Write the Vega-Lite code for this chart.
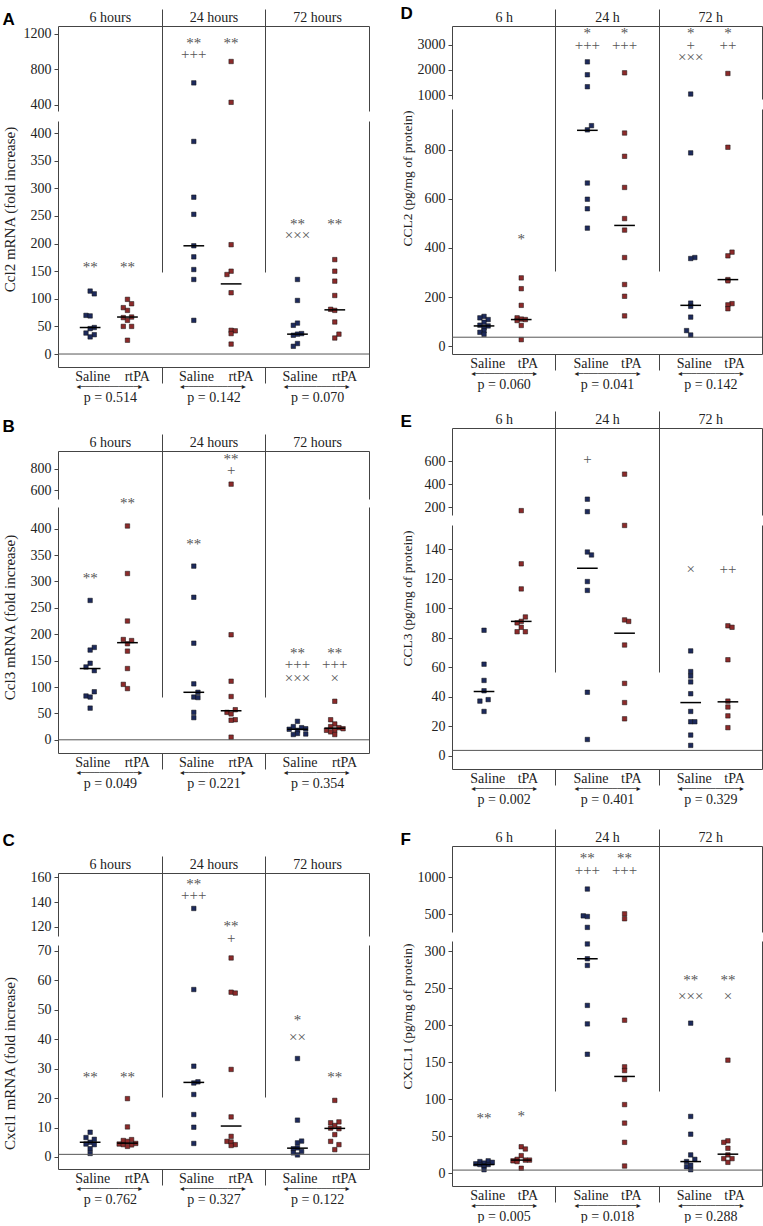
{
"$schema": "https://vega.github.io/schema/vega-lite/v6.json",
"padding": {"left": 2, "top": 4, "right": 0, "bottom": 0},
"autosize": {"type": "pad"},
"config": {
 "view": {"stroke": null},
 "font": "Liberation Serif",
 "axis": {"labelFont": "Liberation Serif", "labelFontSize": 14, "labelColor": "#222", "domainColor": "#444", "domainWidth": 1, "tickColor": "#444", "gridColor": "#444", "gridOpacity": 1, "gridWidth": 1, "labelFlush": false, "labelOverlap": false, "labelBound": false, "titleFont": "Liberation Serif", "titleFontWeight": "normal", "titleColor": "#222", "titleFontSize": 13.5}
},
"datasets": {
"pts": [
{"p":"A","t":"6","g":"S","v":114,"j":0},{"p":"A","t":"6","g":"S","v":109,"j":1},{"p":"A","t":"6","g":"S","v":70,"j":-1},{"p":"A","t":"6","g":"S","v":69,"j":0},{"p":"A","t":"6","g":"S","v":48,"j":1},{"p":"A","t":"6","g":"S","v":46,"j":0},{"p":"A","t":"6","g":"S","v":38,"j":-1},{"p":"A","t":"6","g":"S","v":35,"j":1},{"p":"A","t":"6","g":"S","v":31,"j":0},
{"p":"A","t":"6","g":"R","v":99,"j":0},{"p":"A","t":"6","g":"R","v":91,"j":1},{"p":"A","t":"6","g":"R","v":84,"j":-1},{"p":"A","t":"6","g":"R","v":79,"j":0},{"p":"A","t":"6","g":"R","v":67,"j":1},{"p":"A","t":"6","g":"R","v":66,"j":-1},{"p":"A","t":"6","g":"R","v":61,"j":0},{"p":"A","t":"6","g":"R","v":50,"j":-1},{"p":"A","t":"6","g":"R","v":50,"j":1},{"p":"A","t":"6","g":"R","v":25,"j":0},
{"p":"A","t":"24","g":"S","v":649,"j":0},{"p":"A","t":"24","g":"S","v":385,"j":0},{"p":"A","t":"24","g":"S","v":284,"j":0},{"p":"A","t":"24","g":"S","v":253,"j":0},{"p":"A","t":"24","g":"S","v":196,"j":0},{"p":"A","t":"24","g":"S","v":176,"j":0},{"p":"A","t":"24","g":"S","v":153,"j":0},{"p":"A","t":"24","g":"S","v":135,"j":0},{"p":"A","t":"24","g":"S","v":61,"j":0},
{"p":"A","t":"24","g":"R","v":890,"j":0},{"p":"A","t":"24","g":"R","v":430,"j":0},{"p":"A","t":"24","g":"R","v":198,"j":0},{"p":"A","t":"24","g":"R","v":150,"j":0},{"p":"A","t":"24","g":"R","v":144,"j":-1},{"p":"A","t":"24","g":"R","v":111,"j":0},{"p":"A","t":"24","g":"R","v":43,"j":0},{"p":"A","t":"24","g":"R","v":42,"j":1},{"p":"A","t":"24","g":"R","v":37,"j":0},{"p":"A","t":"24","g":"R","v":18,"j":0},
{"p":"A","t":"72","g":"S","v":135,"j":0},{"p":"A","t":"72","g":"S","v":97,"j":0},{"p":"A","t":"72","g":"S","v":56,"j":0},{"p":"A","t":"72","g":"S","v":52,"j":-1},{"p":"A","t":"72","g":"S","v":37,"j":1},{"p":"A","t":"72","g":"S","v":36,"j":0},{"p":"A","t":"72","g":"S","v":34,"j":-1},{"p":"A","t":"72","g":"S","v":19,"j":0},{"p":"A","t":"72","g":"S","v":14,"j":-1},
{"p":"A","t":"72","g":"R","v":171,"j":0},{"p":"A","t":"72","g":"R","v":150,"j":0},{"p":"A","t":"72","g":"R","v":132,"j":0},{"p":"A","t":"72","g":"R","v":106,"j":0},{"p":"A","t":"72","g":"R","v":81,"j":-1},{"p":"A","t":"72","g":"R","v":79,"j":0},{"p":"A","t":"72","g":"R","v":58,"j":0},{"p":"A","t":"72","g":"R","v":36,"j":1},{"p":"A","t":"72","g":"R","v":29,"j":0},
{"p":"B","t":"6","g":"S","v":264,"j":0},{"p":"B","t":"6","g":"S","v":175,"j":1},{"p":"B","t":"6","g":"S","v":170,"j":0},{"p":"B","t":"6","g":"S","v":145,"j":0},{"p":"B","t":"6","g":"S","v":138,"j":-1},{"p":"B","t":"6","g":"S","v":131,"j":1},{"p":"B","t":"6","g":"S","v":91,"j":1},{"p":"B","t":"6","g":"S","v":83,"j":-1},{"p":"B","t":"6","g":"S","v":81,"j":0},{"p":"B","t":"6","g":"S","v":60,"j":0},
{"p":"B","t":"6","g":"R","v":405,"j":0},{"p":"B","t":"6","g":"R","v":315,"j":0},{"p":"B","t":"6","g":"R","v":225,"j":0},{"p":"B","t":"6","g":"R","v":190,"j":-1},{"p":"B","t":"6","g":"R","v":188,"j":1},{"p":"B","t":"6","g":"R","v":182,"j":0},{"p":"B","t":"6","g":"R","v":168,"j":0},{"p":"B","t":"6","g":"R","v":135,"j":0},{"p":"B","t":"6","g":"R","v":105,"j":-1},{"p":"B","t":"6","g":"R","v":97,"j":0},
{"p":"B","t":"24","g":"S","v":329,"j":0},{"p":"B","t":"24","g":"S","v":270,"j":0},{"p":"B","t":"24","g":"S","v":183,"j":0},{"p":"B","t":"24","g":"S","v":106,"j":0},{"p":"B","t":"24","g":"S","v":90,"j":1},{"p":"B","t":"24","g":"S","v":81,"j":0},{"p":"B","t":"24","g":"S","v":80,"j":1},{"p":"B","t":"24","g":"S","v":52,"j":0},{"p":"B","t":"24","g":"S","v":42,"j":0},
{"p":"B","t":"24","g":"R","v":658,"j":0},{"p":"B","t":"24","g":"R","v":199,"j":0},{"p":"B","t":"24","g":"R","v":111,"j":0},{"p":"B","t":"24","g":"R","v":82,"j":0},{"p":"B","t":"24","g":"R","v":57,"j":1},{"p":"B","t":"24","g":"R","v":52,"j":-1},{"p":"B","t":"24","g":"R","v":49,"j":0},{"p":"B","t":"24","g":"R","v":38,"j":1},{"p":"B","t":"24","g":"R","v":37,"j":0},{"p":"B","t":"24","g":"R","v":5,"j":0},
{"p":"B","t":"72","g":"S","v":35,"j":0},{"p":"B","t":"72","g":"S","v":25,"j":-1},{"p":"B","t":"72","g":"S","v":23,"j":1},{"p":"B","t":"72","g":"S","v":21,"j":2},{"p":"B","t":"72","g":"S","v":20,"j":-2},{"p":"B","t":"72","g":"S","v":18,"j":0},{"p":"B","t":"72","g":"S","v":12,"j":0},{"p":"B","t":"72","g":"S","v":11,"j":2},{"p":"B","t":"72","g":"S","v":10,"j":-1},
{"p":"B","t":"72","g":"R","v":73,"j":0},{"p":"B","t":"72","g":"R","v":38,"j":-1},{"p":"B","t":"72","g":"R","v":30,"j":0},{"p":"B","t":"72","g":"R","v":25,"j":-1},{"p":"B","t":"72","g":"R","v":23,"j":1},{"p":"B","t":"72","g":"R","v":21,"j":2},{"p":"B","t":"72","g":"R","v":18,"j":0},{"p":"B","t":"72","g":"R","v":18,"j":-2},{"p":"B","t":"72","g":"R","v":15,"j":-1},{"p":"B","t":"72","g":"R","v":10,"j":0},
{"p":"C","t":"6","g":"S","v":8.4,"j":0},{"p":"C","t":"6","g":"S","v":6.6,"j":-1},{"p":"C","t":"6","g":"S","v":6.0,"j":1},{"p":"C","t":"6","g":"S","v":5.0,"j":0},{"p":"C","t":"6","g":"S","v":4.4,"j":-1},{"p":"C","t":"6","g":"S","v":4.2,"j":1},{"p":"C","t":"6","g":"S","v":2.8,"j":0},{"p":"C","t":"6","g":"S","v":1.2,"j":0},
{"p":"C","t":"6","g":"R","v":19.8,"j":0},{"p":"C","t":"6","g":"R","v":10.2,"j":0},{"p":"C","t":"6","g":"R","v":5.9,"j":1},{"p":"C","t":"6","g":"R","v":5.6,"j":-1},{"p":"C","t":"6","g":"R","v":5.3,"j":0},{"p":"C","t":"6","g":"R","v":4.6,"j":2},{"p":"C","t":"6","g":"R","v":4.4,"j":-2},{"p":"C","t":"6","g":"R","v":4.2,"j":-1},{"p":"C","t":"6","g":"R","v":4.1,"j":1},{"p":"C","t":"6","g":"R","v":3.6,"j":0},
{"p":"C","t":"24","g":"S","v":134.8,"j":0},{"p":"C","t":"24","g":"S","v":56.8,"j":0},{"p":"C","t":"24","g":"S","v":30.8,"j":0},{"p":"C","t":"24","g":"S","v":25.5,"j":1},{"p":"C","t":"24","g":"S","v":25.1,"j":0},{"p":"C","t":"24","g":"S","v":21.2,"j":0},{"p":"C","t":"24","g":"S","v":14.4,"j":0},{"p":"C","t":"24","g":"S","v":10.1,"j":0},{"p":"C","t":"24","g":"S","v":4.6,"j":0},
{"p":"C","t":"24","g":"R","v":67.5,"j":0},{"p":"C","t":"24","g":"R","v":55.9,"j":0},{"p":"C","t":"24","g":"R","v":55.6,"j":1},{"p":"C","t":"24","g":"R","v":29.7,"j":0},{"p":"C","t":"24","g":"R","v":13.6,"j":0},{"p":"C","t":"24","g":"R","v":7.0,"j":0},{"p":"C","t":"24","g":"R","v":5.3,"j":-1},{"p":"C","t":"24","g":"R","v":5.1,"j":0},{"p":"C","t":"24","g":"R","v":4.2,"j":1},{"p":"C","t":"24","g":"R","v":3.9,"j":0},
{"p":"C","t":"72","g":"S","v":33.4,"j":0},{"p":"C","t":"72","g":"S","v":12.5,"j":0},{"p":"C","t":"72","g":"S","v":5.4,"j":1},{"p":"C","t":"72","g":"S","v":4.8,"j":0},{"p":"C","t":"72","g":"S","v":3.1,"j":0},{"p":"C","t":"72","g":"S","v":2.8,"j":-1},{"p":"C","t":"72","g":"S","v":1.9,"j":1},{"p":"C","t":"72","g":"S","v":1.4,"j":-1},{"p":"C","t":"72","g":"S","v":0.7,"j":0},
{"p":"C","t":"72","g":"R","v":19.2,"j":0},{"p":"C","t":"72","g":"R","v":11.9,"j":1},{"p":"C","t":"72","g":"R","v":11.6,"j":-1},{"p":"C","t":"72","g":"R","v":10.7,"j":0},{"p":"C","t":"72","g":"R","v":9.8,"j":-1},{"p":"C","t":"72","g":"R","v":9.6,"j":1},{"p":"C","t":"72","g":"R","v":7.6,"j":0},{"p":"C","t":"72","g":"R","v":5.3,"j":-1},{"p":"C","t":"72","g":"R","v":4.2,"j":1},{"p":"C","t":"72","g":"R","v":2.5,"j":0},
{"p":"D","t":"6","g":"S","v":121,"j":0},{"p":"D","t":"6","g":"S","v":115,"j":-1},{"p":"D","t":"6","g":"S","v":108,"j":1},{"p":"D","t":"6","g":"S","v":97,"j":0},{"p":"D","t":"6","g":"S","v":85,"j":-1},{"p":"D","t":"6","g":"S","v":82,"j":1},{"p":"D","t":"6","g":"S","v":75,"j":0},{"p":"D","t":"6","g":"S","v":63,"j":0},{"p":"D","t":"6","g":"S","v":56,"j":-1},{"p":"D","t":"6","g":"S","v":48,"j":0},
{"p":"D","t":"6","g":"R","v":278,"j":0},{"p":"D","t":"6","g":"R","v":234,"j":0},{"p":"D","t":"6","g":"R","v":166,"j":0},{"p":"D","t":"6","g":"R","v":115,"j":-1},{"p":"D","t":"6","g":"R","v":110,"j":0},{"p":"D","t":"6","g":"R","v":108,"j":1},{"p":"D","t":"6","g":"R","v":104,"j":-1},{"p":"D","t":"6","g":"R","v":84,"j":0},{"p":"D","t":"6","g":"R","v":26,"j":0},
{"p":"D","t":"24","g":"S","v":2316,"j":0},{"p":"D","t":"24","g":"S","v":1803,"j":0},{"p":"D","t":"24","g":"S","v":1329,"j":0},{"p":"D","t":"24","g":"S","v":899,"j":1},{"p":"D","t":"24","g":"S","v":882,"j":0},{"p":"D","t":"24","g":"S","v":665,"j":0},{"p":"D","t":"24","g":"S","v":599,"j":0},{"p":"D","t":"24","g":"S","v":560,"j":0},{"p":"D","t":"24","g":"S","v":481,"j":0},
{"p":"D","t":"24","g":"R","v":1881,"j":0},{"p":"D","t":"24","g":"R","v":869,"j":0},{"p":"D","t":"24","g":"R","v":774,"j":0},{"p":"D","t":"24","g":"R","v":647,"j":0},{"p":"D","t":"24","g":"R","v":520,"j":0},{"p":"D","t":"24","g":"R","v":473,"j":0},{"p":"D","t":"24","g":"R","v":361,"j":0},{"p":"D","t":"24","g":"R","v":251,"j":0},{"p":"D","t":"24","g":"R","v":203,"j":0},{"p":"D","t":"24","g":"R","v":123,"j":0},
{"p":"D","t":"72","g":"S","v":1039,"j":0},{"p":"D","t":"72","g":"S","v":788,"j":0},{"p":"D","t":"72","g":"S","v":361,"j":1},{"p":"D","t":"72","g":"S","v":357,"j":0},{"p":"D","t":"72","g":"S","v":175,"j":0},{"p":"D","t":"72","g":"S","v":162,"j":0},{"p":"D","t":"72","g":"S","v":118,"j":0},{"p":"D","t":"72","g":"S","v":63,"j":-1},{"p":"D","t":"72","g":"S","v":45,"j":0},
{"p":"D","t":"72","g":"R","v":1855,"j":0},{"p":"D","t":"72","g":"R","v":811,"j":0},{"p":"D","t":"72","g":"R","v":383,"j":1},{"p":"D","t":"72","g":"R","v":368,"j":0},{"p":"D","t":"72","g":"R","v":271,"j":0},{"p":"D","t":"72","g":"R","v":266,"j":0},{"p":"D","t":"72","g":"R","v":173,"j":1},{"p":"D","t":"72","g":"R","v":168,"j":0},{"p":"D","t":"72","g":"R","v":152,"j":0},
{"p":"E","t":"6","g":"S","v":85,"j":0},{"p":"E","t":"6","g":"S","v":62,"j":0},{"p":"E","t":"6","g":"S","v":51,"j":0},{"p":"E","t":"6","g":"S","v":44,"j":0},{"p":"E","t":"6","g":"S","v":38,"j":1},{"p":"E","t":"6","g":"S","v":37,"j":-1},{"p":"E","t":"6","g":"S","v":30,"j":0},
{"p":"E","t":"6","g":"R","v":171,"j":0},{"p":"E","t":"6","g":"R","v":130,"j":0},{"p":"E","t":"6","g":"R","v":113,"j":0},{"p":"E","t":"6","g":"R","v":94,"j":1},{"p":"E","t":"6","g":"R","v":91,"j":0},{"p":"E","t":"6","g":"R","v":90,"j":-1},{"p":"E","t":"6","g":"R","v":87,"j":0},{"p":"E","t":"6","g":"R","v":84,"j":-1},{"p":"E","t":"6","g":"R","v":84,"j":1},
{"p":"E","t":"24","g":"S","v":270,"j":0},{"p":"E","t":"24","g":"S","v":162,"j":0},{"p":"E","t":"24","g":"S","v":138,"j":0},{"p":"E","t":"24","g":"S","v":136,"j":1},{"p":"E","t":"24","g":"S","v":118,"j":0},{"p":"E","t":"24","g":"S","v":112,"j":0},{"p":"E","t":"24","g":"S","v":43,"j":0},{"p":"E","t":"24","g":"S","v":11,"j":0},
{"p":"E","t":"24","g":"R","v":487,"j":0},{"p":"E","t":"24","g":"R","v":156,"j":0},{"p":"E","t":"24","g":"R","v":92,"j":0},{"p":"E","t":"24","g":"R","v":91,"j":1},{"p":"E","t":"24","g":"R","v":75,"j":0},{"p":"E","t":"24","g":"R","v":49,"j":0},{"p":"E","t":"24","g":"R","v":36,"j":0},{"p":"E","t":"24","g":"R","v":25,"j":0},
{"p":"E","t":"72","g":"S","v":71,"j":0},{"p":"E","t":"72","g":"S","v":57,"j":0},{"p":"E","t":"72","g":"S","v":54,"j":0},{"p":"E","t":"72","g":"S","v":50,"j":0},{"p":"E","t":"72","g":"S","v":42,"j":0},{"p":"E","t":"72","g":"S","v":30,"j":0},{"p":"E","t":"72","g":"S","v":23,"j":0},{"p":"E","t":"72","g":"S","v":23,"j":1},{"p":"E","t":"72","g":"S","v":14,"j":0},{"p":"E","t":"72","g":"S","v":7,"j":0},
{"p":"E","t":"72","g":"R","v":88,"j":0},{"p":"E","t":"72","g":"R","v":87,"j":1},{"p":"E","t":"72","g":"R","v":65,"j":0},{"p":"E","t":"72","g":"R","v":37,"j":0},{"p":"E","t":"72","g":"R","v":33,"j":0},{"p":"E","t":"72","g":"R","v":27,"j":0},{"p":"E","t":"72","g":"R","v":19,"j":0},
{"p":"F","t":"6","g":"S","v":17,"j":1},{"p":"F","t":"6","g":"S","v":16,"j":-1},{"p":"F","t":"6","g":"S","v":15,"j":2},{"p":"F","t":"6","g":"S","v":14,"j":0},{"p":"F","t":"6","g":"S","v":13,"j":-2},{"p":"F","t":"6","g":"S","v":12,"j":1},{"p":"F","t":"6","g":"S","v":12,"j":-1},{"p":"F","t":"6","g":"S","v":10,"j":0},{"p":"F","t":"6","g":"S","v":5,"j":0},
{"p":"F","t":"6","g":"R","v":36,"j":0},{"p":"F","t":"6","g":"R","v":33,"j":1},{"p":"F","t":"6","g":"R","v":24,"j":0},{"p":"F","t":"6","g":"R","v":19,"j":-1},{"p":"F","t":"6","g":"R","v":18,"j":1},{"p":"F","t":"6","g":"R","v":18,"j":2},{"p":"F","t":"6","g":"R","v":17,"j":-2},{"p":"F","t":"6","g":"R","v":16,"j":-1},{"p":"F","t":"6","g":"R","v":7,"j":0},
{"p":"F","t":"24","g":"S","v":842,"j":0},{"p":"F","t":"24","g":"S","v":477,"j":-1},{"p":"F","t":"24","g":"S","v":468,"j":0},{"p":"F","t":"24","g":"S","v":320,"j":0},{"p":"F","t":"24","g":"S","v":310,"j":0},{"p":"F","t":"24","g":"S","v":290,"j":0},{"p":"F","t":"24","g":"S","v":281,"j":0},{"p":"F","t":"24","g":"S","v":227,"j":0},{"p":"F","t":"24","g":"S","v":202,"j":0},{"p":"F","t":"24","g":"S","v":161,"j":0},
{"p":"F","t":"24","g":"R","v":504,"j":0},{"p":"F","t":"24","g":"R","v":437,"j":0},{"p":"F","t":"24","g":"R","v":207,"j":0},{"p":"F","t":"24","g":"R","v":144,"j":0},{"p":"F","t":"24","g":"R","v":139,"j":0},{"p":"F","t":"24","g":"R","v":127,"j":0},{"p":"F","t":"24","g":"R","v":93,"j":0},{"p":"F","t":"24","g":"R","v":68,"j":0},{"p":"F","t":"24","g":"R","v":42,"j":0},{"p":"F","t":"24","g":"R","v":10,"j":0},
{"p":"F","t":"72","g":"S","v":203,"j":0},{"p":"F","t":"72","g":"S","v":77,"j":0},{"p":"F","t":"72","g":"S","v":53,"j":0},{"p":"F","t":"72","g":"S","v":25,"j":0},{"p":"F","t":"72","g":"S","v":19,"j":1},{"p":"F","t":"72","g":"S","v":16,"j":-1},{"p":"F","t":"72","g":"S","v":11,"j":0},{"p":"F","t":"72","g":"S","v":9,"j":-1},{"p":"F","t":"72","g":"S","v":5,"j":0},
{"p":"F","t":"72","g":"R","v":153,"j":0},{"p":"F","t":"72","g":"R","v":44,"j":0},{"p":"F","t":"72","g":"R","v":42,"j":-1},{"p":"F","t":"72","g":"R","v":34,"j":0},{"p":"F","t":"72","g":"R","v":25,"j":0},{"p":"F","t":"72","g":"R","v":20,"j":-1},{"p":"F","t":"72","g":"R","v":20,"j":1},{"p":"F","t":"72","g":"R","v":15,"j":0}
],
"med": [
{"p":"A","t":"6","g":"S","v":48},{"p":"A","t":"6","g":"R","v":67},{"p":"A","t":"24","g":"S","v":196},{"p":"A","t":"24","g":"R","v":127},{"p":"A","t":"72","g":"S","v":36},{"p":"A","t":"72","g":"R","v":80},
{"p":"B","t":"6","g":"S","v":135},{"p":"B","t":"6","g":"R","v":184},{"p":"B","t":"24","g":"S","v":90},{"p":"B","t":"24","g":"R","v":55},{"p":"B","t":"72","g":"S","v":20},{"p":"B","t":"72","g":"R","v":22},
{"p":"C","t":"6","g":"S","v":5.0},{"p":"C","t":"6","g":"R","v":4.7},{"p":"C","t":"24","g":"S","v":25.3},{"p":"C","t":"24","g":"R","v":10.5},{"p":"C","t":"72","g":"S","v":3.0},{"p":"C","t":"72","g":"R","v":9.7},
{"p":"D","t":"6","g":"S","v":82},{"p":"D","t":"6","g":"R","v":108},{"p":"D","t":"24","g":"S","v":880},{"p":"D","t":"24","g":"R","v":492},{"p":"D","t":"72","g":"S","v":166},{"p":"D","t":"72","g":"R","v":271},
{"p":"E","t":"6","g":"S","v":43.5},{"p":"E","t":"6","g":"R","v":91},{"p":"E","t":"24","g":"S","v":127},{"p":"E","t":"24","g":"R","v":83},{"p":"E","t":"72","g":"S","v":36},{"p":"E","t":"72","g":"R","v":36.5},
{"p":"F","t":"6","g":"S","v":12},{"p":"F","t":"6","g":"R","v":18},{"p":"F","t":"24","g":"S","v":290},{"p":"F","t":"24","g":"R","v":131},{"p":"F","t":"72","g":"S","v":16},{"p":"F","t":"72","g":"R","v":26}
],
"ann": [
{"p":"A","t":"6","g":"S","s":"**","v":158},{"p":"A","t":"6","g":"R","s":"**","v":158},{"p":"A","t":"24","g":"S","s":"**","v":1094},{"p":"A","t":"24","g":"S","s":"+++","v":974},{"p":"A","t":"24","g":"R","s":"**","v":1094},{"p":"A","t":"72","g":"S","s":"**","v":236},{"p":"A","t":"72","g":"S","s":"×××","v":215},{"p":"A","t":"72","g":"R","s":"**","v":236},
{"p":"B","t":"6","g":"S","s":"**","v":306},{"p":"B","t":"6","g":"R","s":"**","v":449},{"p":"B","t":"24","g":"S","s":"**","v":370},{"p":"B","t":"24","g":"R","s":"**","v":895},{"p":"B","t":"24","g":"R","s":"+","v":788},{"p":"B","t":"72","g":"S","s":"**","v":164},{"p":"B","t":"72","g":"S","s":"+++","v":143},{"p":"B","t":"72","g":"S","s":"×××","v":117},{"p":"B","t":"72","g":"R","s":"**","v":164},{"p":"B","t":"72","g":"R","s":"+++","v":143},{"p":"B","t":"72","g":"R","s":"×","v":117},
{"p":"C","t":"6","g":"S","s":"**","v":27.2},{"p":"C","t":"6","g":"R","s":"**","v":27.2},{"p":"C","t":"24","g":"S","s":"**","v":154.6},{"p":"C","t":"24","g":"S","s":"+++","v":145.5},{"p":"C","t":"24","g":"R","s":"**","v":120.5},{"p":"C","t":"24","g":"R","s":"+","v":111.1},{"p":"C","t":"72","g":"S","s":"*","v":46.5},{"p":"C","t":"72","g":"S","s":"××","v":40.8},{"p":"C","t":"72","g":"R","s":"**","v":27.2},
{"p":"D","t":"6","g":"R","s":"*","v":435},{"p":"D","t":"24","g":"S","s":"*","v":3474},{"p":"D","t":"24","g":"S","s":"+++","v":3000},{"p":"D","t":"24","g":"R","s":"*","v":3474},{"p":"D","t":"24","g":"R","s":"+++","v":3000},{"p":"D","t":"72","g":"S","s":"*","v":3474},{"p":"D","t":"72","g":"S","s":"+","v":3000},{"p":"D","t":"72","g":"S","s":"×××","v":2513},{"p":"D","t":"72","g":"R","s":"*","v":3474},{"p":"D","t":"72","g":"R","s":"++","v":3000},
{"p":"E","t":"24","g":"S","s":"+","v":617},{"p":"E","t":"72","g":"S","s":"×","v":126.8},{"p":"E","t":"72","g":"R","s":"++","v":126.8},
{"p":"F","t":"6","g":"S","s":"**","v":74.6},{"p":"F","t":"6","g":"R","s":"*","v":77.7},{"p":"F","t":"24","g":"S","s":"**","v":1270},{"p":"F","t":"24","g":"S","s":"+++","v":1099},{"p":"F","t":"24","g":"R","s":"**","v":1270},{"p":"F","t":"24","g":"R","s":"+++","v":1099},{"p":"F","t":"72","g":"S","s":"**","v":261},{"p":"F","t":"72","g":"S","s":"×××","v":239.5},{"p":"F","t":"72","g":"R","s":"**","v":261},{"p":"F","t":"72","g":"R","s":"×","v":239.5}
]
},
"spacing": 30,
"hconcat": [
{"spacing": 41, "vconcat": [
{"spacing": 13, "vconcat": [
{
"width": 311, "height": 341,
"resolve": {"scale": {"x": "independent", "y": "independent"}, "axis": {"x": "independent", "y": "independent"}},
"layer": [
{"data": {"name": "pts"},
 "transform": [{"filter": "datum.p=='A' && datum.v>425"}, {"calculate": "(datum.t=='6'?0:datum.t=='24'?1:2)+(datum.g=='S'?0.31:0.67)+datum.j*0.04", "as": "x"}],
 "mark": {"type": "square", "size": 20, "stroke": "#111", "strokeWidth": 0.5, "opacity": 1},
 "encoding": {
  "x": {"field": "x", "type": "quantitative", "scale": {"domain": [0, 3], "nice": false, "zero": false}, "axis": {"orient": "top", "values": [0.5, 1.5, 2.5], "labelExpr": "datum.value<1?'6 hours':datum.value<2?'24 hours':'72 hours'", "ticks": false, "tickSize": 0, "grid": false, "labelPadding": 2, "labelFontSize": 14, "title": "A", "titleX": -56, "titleY": -2, "titleAngle": 0, "titleAlign": "left", "titleBaseline": "alphabetic", "titleFont": "Liberation Sans", "titleFontSize": 17, "titleFontWeight": "bold", "titleColor": "#000"}},
  "y": {"field": "v", "type": "quantitative", "scale": {"domain": [332, 1290], "range": [85, 0], "nice": false, "zero": false}, "axis": {"orient": "left", "values": [400, 800, 1200], "format": "d", "tickSize": 4, "labelPadding": 3, "grid": false, "title": null}},
  "color": {"field": "g", "type": "nominal", "scale": {"domain": ["S", "R"], "range": ["#1d2a5c", "#8c2a2a"]}, "legend": null}}},
{"data": {"name": "ann"},
 "transform": [{"filter": "datum.p=='A' && datum.v>425"}, {"calculate": "(datum.t=='6'?0:datum.t=='24'?1:2)+(datum.g=='S'?0.31:0.67)", "as": "x"}],
 "mark": {"type": "text", "fontSize": 15, "color": "#555", "fill": "#555", "baseline": "middle"},
 "encoding": {
  "x": {"field": "x", "type": "quantitative", "scale": {"domain": [0, 3], "nice": false, "zero": false}, "axis": {"orient": "top", "values": [1, 2], "labels": false, "domain": false, "ticks": true, "tickSize": 17, "grid": true, "title": null}},
  "y": {"field": "v", "type": "quantitative", "scale": {"domain": [332, 1290], "range": [85, 0], "nice": false, "zero": false}, "axis": {"orient": "right", "labels": false, "ticks": false, "domain": true, "grid": false, "title": null}},
  "text": {"field": "s"}}},
{"data": {"name": "pts"},
 "transform": [{"filter": "datum.p=='A' && datum.v<=425"}, {"calculate": "(datum.t=='6'?0:datum.t=='24'?1:2)+(datum.g=='S'?0.31:0.67)+datum.j*0.04", "as": "x"}],
 "mark": {"type": "square", "size": 20, "stroke": "#111", "strokeWidth": 0.5, "opacity": 1},
 "encoding": {
  "x": {"field": "x", "type": "quantitative", "scale": {"domain": [0, 3], "nice": false, "zero": false}, "axis": {"orient": "bottom", "values": [0.33, 0.76, 1.33, 1.76, 2.33, 2.76], "labelExpr": "datum.value%1<0.5?'Saline':'rtPA'", "ticks": false, "tickSize": 0, "grid": false, "labelPadding": 2, "labelFontSize": 14, "title": null}},
  "y": {"field": "v", "type": "quantitative", "scale": {"domain": [-23.5, 422], "range": [341, 95], "nice": false, "zero": false}, "axis": {"orient": "left", "values": [0, 50, 100, 150, 200, 250, 300, 350, 400], "tickSize": 4, "labelPadding": 3, "grid": false, "title": "Ccl2 mRNA (fold increase)", "titleX": -56, "titleY": 183, "titleAngle": 270, "titleBaseline": "top", "titleAlign": "center", "titleFontSize": 15}},
  "color": {"field": "g", "type": "nominal", "scale": {"domain": ["S", "R"], "range": ["#1d2a5c", "#8c2a2a"]}, "legend": null}}},
{"data": {"name": "ann"},
 "transform": [{"filter": "datum.p=='A' && datum.v<=425"}, {"calculate": "(datum.t=='6'?0:datum.t=='24'?1:2)+(datum.g=='S'?0.31:0.67)", "as": "x"}],
 "mark": {"type": "text", "fontSize": 15, "color": "#555", "fill": "#555", "baseline": "middle"},
 "encoding": {
  "x": {"field": "x", "type": "quantitative", "scale": {"domain": [0, 3], "nice": false, "zero": false}, "axis": {"orient": "bottom", "values": [1, 2], "labels": false, "domain": false, "ticks": true, "tickSize": 16, "grid": true, "title": null}},
  "y": {"field": "v", "type": "quantitative", "scale": {"domain": [-23.5, 422], "range": [341, 95], "nice": false, "zero": false}, "axis": {"orient": "right", "labels": false, "ticks": false, "domain": true, "grid": false, "title": null}},
  "text": {"field": "s"}}},
{"data": {"name": "med"},
 "transform": [{"filter": "datum.p=='A'"}, {"calculate": "(datum.t=='6'?0:datum.t=='24'?1:2)+(datum.g=='S'?0.31:0.67)", "as": "c"}, {"calculate": "datum.c-0.1", "as": "x1"}, {"calculate": "datum.c+0.1", "as": "x2"}],
 "mark": {"type": "rule", "strokeWidth": 1.5, "color": "#000"},
 "encoding": {
  "x": {"field": "x1", "type": "quantitative", "scale": {"domain": [0, 3], "nice": false, "zero": false}, "axis": {"orient": "bottom", "values": [0.49, 1.49, 2.49], "labelExpr": "'◂────────────▸'", "ticks": false, "tickSize": 0, "domain": false, "grid": false, "labelPadding": 15, "labelFont": "DejaVu Sans", "labelFontSize": 8, "title": null}},
  "x2": {"field": "x2"},
  "y": {"field": "v", "type": "quantitative", "scale": {"domain": [-23.5, 422], "range": [341, 95], "nice": false, "zero": false}, "axis": null}}},
{"data": {"values": [{}]},
 "mark": {"type": "rule", "strokeWidth": 1, "color": "#555"},
 "encoding": {
  "x": {"datum": 0, "type": "quantitative", "scale": {"domain": [0, 3], "nice": false, "zero": false}, "axis": {"orient": "bottom", "values": [0.5, 1.5, 2.5], "labelExpr": "datum.value<1?'p = 0.514':datum.value<2?'p = 0.142':'p = 0.070'", "ticks": false, "tickSize": 0, "domain": false, "grid": false, "labelPadding": 23, "labelFontSize": 14, "title": null}},
  "x2": {"datum": 3},
  "y": {"datum": 0, "type": "quantitative", "scale": {"domain": [-23.5, 422], "range": [341, 95], "nice": false, "zero": false}, "axis": null}}}
]
},
{
"width": 311, "height": 302,
"resolve": {"scale": {"x": "independent", "y": "independent"}, "axis": {"x": "independent", "y": "independent"}},
"layer": [
{"data": {"name": "pts"},
 "transform": [{"filter": "datum.p=='B' && datum.v>500"}, {"calculate": "(datum.t=='6'?0:datum.t=='24'?1:2)+(datum.g=='S'?0.31:0.67)+datum.j*0.04", "as": "x"}],
 "mark": {"type": "square", "size": 20, "stroke": "#111", "strokeWidth": 0.5, "opacity": 1},
 "encoding": {
  "x": {"field": "x", "type": "quantitative", "scale": {"domain": [0, 3], "nice": false, "zero": false}, "axis": {"orient": "top", "values": [0.5, 1.5, 2.5], "labelExpr": "datum.value<1?'6 hours':datum.value<2?'24 hours':'72 hours'", "ticks": false, "tickSize": 0, "grid": false, "labelPadding": 2, "labelFontSize": 14, "title": "B", "titleX": -56, "titleY": -20, "titleAngle": 0, "titleAlign": "left", "titleBaseline": "alphabetic", "titleFont": "Liberation Sans", "titleFontSize": 17, "titleFontWeight": "bold", "titleColor": "#000"}},
  "y": {"field": "v", "type": "quantitative", "scale": {"domain": [520, 966], "range": [48, 0], "nice": false, "zero": false}, "axis": {"orient": "left", "values": [600, 800], "tickSize": 4, "labelPadding": 3, "grid": false, "title": null}},
  "color": {"field": "g", "type": "nominal", "scale": {"domain": ["S", "R"], "range": ["#1d2a5c", "#8c2a2a"]}, "legend": null}}},
{"data": {"name": "ann"},
 "transform": [{"filter": "datum.p=='B' && datum.v>500"}, {"calculate": "(datum.t=='6'?0:datum.t=='24'?1:2)+(datum.g=='S'?0.31:0.67)", "as": "x"}],
 "mark": {"type": "text", "fontSize": 15, "color": "#555", "fill": "#555", "baseline": "middle"},
 "encoding": {
  "x": {"field": "x", "type": "quantitative", "scale": {"domain": [0, 3], "nice": false, "zero": false}, "axis": {"orient": "top", "values": [1, 2], "labels": false, "domain": false, "ticks": true, "tickSize": 17, "grid": true, "title": null}},
  "y": {"field": "v", "type": "quantitative", "scale": {"domain": [520, 966], "range": [48, 0], "nice": false, "zero": false}, "axis": {"orient": "right", "labels": false, "ticks": false, "domain": true, "grid": false, "title": null}},
  "text": {"field": "s"}}},
{"data": {"name": "pts"},
 "transform": [{"filter": "datum.p=='B' && datum.v<=500"}, {"calculate": "(datum.t=='6'?0:datum.t=='24'?1:2)+(datum.g=='S'?0.31:0.67)+datum.j*0.04", "as": "x"}],
 "mark": {"type": "square", "size": 20, "stroke": "#111", "strokeWidth": 0.5, "opacity": 1},
 "encoding": {
  "x": {"field": "x", "type": "quantitative", "scale": {"domain": [0, 3], "nice": false, "zero": false}, "axis": {"orient": "bottom", "values": [0.33, 0.76, 1.33, 1.76, 2.33, 2.76], "labelExpr": "datum.value%1<0.5?'Saline':'rtPA'", "ticks": false, "tickSize": 0, "grid": false, "labelPadding": 2, "labelFontSize": 14, "title": null}},
  "y": {"field": "v", "type": "quantitative", "scale": {"domain": [-25, 441], "range": [302, 56], "nice": false, "zero": false}, "axis": {"orient": "left", "values": [0, 50, 100, 150, 200, 250, 300, 350, 400], "tickSize": 4, "labelPadding": 3, "grid": false, "title": "Ccl3 mRNA (fold increase)", "titleX": -56, "titleY": 166, "titleAngle": 270, "titleBaseline": "top", "titleAlign": "center", "titleFontSize": 15}},
  "color": {"field": "g", "type": "nominal", "scale": {"domain": ["S", "R"], "range": ["#1d2a5c", "#8c2a2a"]}, "legend": null}}},
{"data": {"name": "ann"},
 "transform": [{"filter": "datum.p=='B' && datum.v<=500"}, {"calculate": "(datum.t=='6'?0:datum.t=='24'?1:2)+(datum.g=='S'?0.31:0.67)", "as": "x"}],
 "mark": {"type": "text", "fontSize": 15, "color": "#555", "fill": "#555", "baseline": "middle"},
 "encoding": {
  "x": {"field": "x", "type": "quantitative", "scale": {"domain": [0, 3], "nice": false, "zero": false}, "axis": {"orient": "bottom", "values": [1, 2], "labels": false, "domain": false, "ticks": true, "tickSize": 16, "grid": true, "title": null}},
  "y": {"field": "v", "type": "quantitative", "scale": {"domain": [-25, 441], "range": [302, 56], "nice": false, "zero": false}, "axis": {"orient": "right", "labels": false, "ticks": false, "domain": true, "grid": false, "title": null}},
  "text": {"field": "s"}}},
{"data": {"name": "med"},
 "transform": [{"filter": "datum.p=='B'"}, {"calculate": "(datum.t=='6'?0:datum.t=='24'?1:2)+(datum.g=='S'?0.31:0.67)", "as": "c"}, {"calculate": "datum.c-0.1", "as": "x1"}, {"calculate": "datum.c+0.1", "as": "x2"}],
 "mark": {"type": "rule", "strokeWidth": 1.5, "color": "#000"},
 "encoding": {
  "x": {"field": "x1", "type": "quantitative", "scale": {"domain": [0, 3], "nice": false, "zero": false}, "axis": {"orient": "bottom", "values": [0.49, 1.49, 2.49], "labelExpr": "'◂────────────▸'", "ticks": false, "tickSize": 0, "domain": false, "grid": false, "labelPadding": 15, "labelFont": "DejaVu Sans", "labelFontSize": 8, "title": null}},
  "x2": {"field": "x2"},
  "y": {"field": "v", "type": "quantitative", "scale": {"domain": [-25, 441], "range": [302, 56], "nice": false, "zero": false}, "axis": null}}},
{"data": {"values": [{}]},
 "mark": {"type": "rule", "strokeWidth": 1, "color": "#555"},
 "encoding": {
  "x": {"datum": 0, "type": "quantitative", "scale": {"domain": [0, 3], "nice": false, "zero": false}, "axis": {"orient": "bottom", "values": [0.5, 1.5, 2.5], "labelExpr": "datum.value<1?'p = 0.049':datum.value<2?'p = 0.221':'p = 0.354'", "ticks": false, "tickSize": 0, "domain": false, "grid": false, "labelPadding": 23, "labelFontSize": 14, "title": null}},
  "x2": {"datum": 3},
  "y": {"datum": 0, "type": "quantitative", "scale": {"domain": [-25, 441], "range": [302, 56], "nice": false, "zero": false}, "axis": null}}}
]
}
]},
{
"width": 311, "height": 296,
"resolve": {"scale": {"x": "independent", "y": "independent"}, "axis": {"x": "independent", "y": "independent"}},
"layer": [
{"data": {"name": "pts"},
 "transform": [{"filter": "datum.p=='C' && datum.v>100"}, {"calculate": "(datum.t=='6'?0:datum.t=='24'?1:2)+(datum.g=='S'?0.31:0.67)+datum.j*0.04", "as": "x"}],
 "mark": {"type": "square", "size": 20, "stroke": "#111", "strokeWidth": 0.5, "opacity": 1},
 "encoding": {
  "x": {"field": "x", "type": "quantitative", "scale": {"domain": [0, 3], "nice": false, "zero": false}, "axis": {"orient": "top", "values": [0.5, 1.5, 2.5], "labelExpr": "datum.value<1?'6 hours':datum.value<2?'24 hours':'72 hours'", "ticks": false, "tickSize": 0, "grid": false, "labelPadding": 2, "labelFontSize": 14, "title": "C", "titleX": -56, "titleY": -28, "titleAngle": 0, "titleAlign": "left", "titleBaseline": "alphabetic", "titleFont": "Liberation Sans", "titleFontSize": 17, "titleFontWeight": "bold", "titleColor": "#000"}},
  "y": {"field": "v", "type": "quantitative", "scale": {"domain": [112.5, 163.5], "range": [63, 0], "nice": false, "zero": false}, "axis": {"orient": "left", "values": [120, 140, 160], "tickSize": 4, "labelPadding": 3, "grid": false, "title": null}},
  "color": {"field": "g", "type": "nominal", "scale": {"domain": ["S", "R"], "range": ["#1d2a5c", "#8c2a2a"]}, "legend": null}}},
{"data": {"name": "ann"},
 "transform": [{"filter": "datum.p=='C' && datum.v>100"}, {"calculate": "(datum.t=='6'?0:datum.t=='24'?1:2)+(datum.g=='S'?0.31:0.67)", "as": "x"}],
 "mark": {"type": "text", "fontSize": 15, "color": "#555", "fill": "#555", "baseline": "middle"},
 "encoding": {
  "x": {"field": "x", "type": "quantitative", "scale": {"domain": [0, 3], "nice": false, "zero": false}, "axis": {"orient": "top", "values": [1, 2], "labels": false, "domain": false, "ticks": true, "tickSize": 17, "grid": true, "title": null}},
  "y": {"field": "v", "type": "quantitative", "scale": {"domain": [112.5, 163.5], "range": [63, 0], "nice": false, "zero": false}, "axis": {"orient": "right", "labels": false, "ticks": false, "domain": true, "grid": false, "title": null}},
  "text": {"field": "s"}}},
{"data": {"name": "pts"},
 "transform": [{"filter": "datum.p=='C' && datum.v<=100"}, {"calculate": "(datum.t=='6'?0:datum.t=='24'?1:2)+(datum.g=='S'?0.31:0.67)+datum.j*0.04", "as": "x"}],
 "mark": {"type": "square", "size": 20, "stroke": "#111", "strokeWidth": 0.5, "opacity": 1},
 "encoding": {
  "x": {"field": "x", "type": "quantitative", "scale": {"domain": [0, 3], "nice": false, "zero": false}, "axis": {"orient": "bottom", "values": [0.33, 0.76, 1.33, 1.76, 2.33, 2.76], "labelExpr": "datum.value%1<0.5?'Saline':'rtPA'", "ticks": false, "tickSize": 0, "grid": false, "labelPadding": 2, "labelFontSize": 14, "title": null}},
  "y": {"field": "v", "type": "quantitative", "scale": {"domain": [-4.07, 71.9], "range": [296, 72], "nice": false, "zero": false}, "axis": {"orient": "left", "values": [0, 10, 20, 30, 40, 50, 60, 70], "tickSize": 4, "labelPadding": 3, "grid": false, "title": "Cxcl1 mRNA (fold increase)", "titleX": -56, "titleY": 190, "titleAngle": 270, "titleBaseline": "top", "titleAlign": "center", "titleFontSize": 15}},
  "color": {"field": "g", "type": "nominal", "scale": {"domain": ["S", "R"], "range": ["#1d2a5c", "#8c2a2a"]}, "legend": null}}},
{"data": {"name": "ann"},
 "transform": [{"filter": "datum.p=='C' && datum.v<=100"}, {"calculate": "(datum.t=='6'?0:datum.t=='24'?1:2)+(datum.g=='S'?0.31:0.67)", "as": "x"}],
 "mark": {"type": "text", "fontSize": 15, "color": "#555", "fill": "#555", "baseline": "middle"},
 "encoding": {
  "x": {"field": "x", "type": "quantitative", "scale": {"domain": [0, 3], "nice": false, "zero": false}, "axis": {"orient": "bottom", "values": [1, 2], "labels": false, "domain": false, "ticks": true, "tickSize": 16, "grid": true, "title": null}},
  "y": {"field": "v", "type": "quantitative", "scale": {"domain": [-4.07, 71.9], "range": [296, 72], "nice": false, "zero": false}, "axis": {"orient": "right", "labels": false, "ticks": false, "domain": true, "grid": false, "title": null}},
  "text": {"field": "s"}}},
{"data": {"name": "med"},
 "transform": [{"filter": "datum.p=='C'"}, {"calculate": "(datum.t=='6'?0:datum.t=='24'?1:2)+(datum.g=='S'?0.31:0.67)", "as": "c"}, {"calculate": "datum.c-0.1", "as": "x1"}, {"calculate": "datum.c+0.1", "as": "x2"}],
 "mark": {"type": "rule", "strokeWidth": 1.5, "color": "#000"},
 "encoding": {
  "x": {"field": "x1", "type": "quantitative", "scale": {"domain": [0, 3], "nice": false, "zero": false}, "axis": {"orient": "bottom", "values": [0.49, 1.49, 2.49], "labelExpr": "'◂────────────▸'", "ticks": false, "tickSize": 0, "domain": false, "grid": false, "labelPadding": 15, "labelFont": "DejaVu Sans", "labelFontSize": 8, "title": null}},
  "x2": {"field": "x2"},
  "y": {"field": "v", "type": "quantitative", "scale": {"domain": [-4.07, 71.9], "range": [296, 72], "nice": false, "zero": false}, "axis": null}}},
{"data": {"values": [{}]},
 "mark": {"type": "rule", "strokeWidth": 1, "color": "#555"},
 "encoding": {
  "x": {"datum": 0, "type": "quantitative", "scale": {"domain": [0, 3], "nice": false, "zero": false}, "axis": {"orient": "bottom", "values": [0.5, 1.5, 2.5], "labelExpr": "datum.value<1?'p = 0.762':datum.value<2?'p = 0.327':'p = 0.122'", "ticks": false, "tickSize": 0, "domain": false, "grid": false, "labelPadding": 23, "labelFontSize": 14, "title": null}},
  "x2": {"datum": 3},
  "y": {"datum": 0.9, "type": "quantitative", "scale": {"domain": [-4.07, 71.9], "range": [296, 72], "nice": false, "zero": false}, "axis": null}}}
]
}
]},
{"spacing": 22, "vconcat": [
{"spacing": 19, "vconcat": [
{
"width": 310, "height": 328,
"resolve": {"scale": {"x": "independent", "y": "independent"}, "axis": {"x": "independent", "y": "independent"}},
"layer": [
{"data": {"name": "pts"},
 "transform": [{"filter": "datum.p=='D' && datum.v>950"}, {"calculate": "(datum.t=='6'?0:datum.t=='24'?1:2)+(datum.g=='S'?0.31:0.67)+datum.j*0.04", "as": "x"}],
 "mark": {"type": "square", "size": 20, "stroke": "#111", "strokeWidth": 0.5, "opacity": 1},
 "encoding": {
  "x": {"field": "x", "type": "quantitative", "scale": {"domain": [0, 3], "nice": false, "zero": false}, "axis": {"orient": "top", "values": [0.5, 1.5, 2.5], "labelExpr": "datum.value<1?'6 h':datum.value<2?'24 h':'72 h'", "ticks": false, "tickSize": 0, "grid": false, "labelPadding": 2, "labelFontSize": 14, "title": "D", "titleX": -52, "titleY": -8, "titleAngle": 0, "titleAlign": "left", "titleBaseline": "alphabetic", "titleFont": "Liberation Sans", "titleFontSize": 17, "titleFontWeight": "bold", "titleColor": "#000"}},
  "y": {"field": "v", "type": "quantitative", "scale": {"domain": [842, 3738], "range": [73, 0], "nice": false, "zero": false}, "axis": {"orient": "left", "values": [1000, 2000, 3000], "format": "d", "tickSize": 4, "labelPadding": 3, "grid": false, "title": null}},
  "color": {"field": "g", "type": "nominal", "scale": {"domain": ["S", "R"], "range": ["#1d2a5c", "#8c2a2a"]}, "legend": null}}},
{"data": {"name": "ann"},
 "transform": [{"filter": "datum.p=='D' && datum.v>950"}, {"calculate": "(datum.t=='6'?0:datum.t=='24'?1:2)+(datum.g=='S'?0.31:0.67)", "as": "x"}],
 "mark": {"type": "text", "fontSize": 15, "color": "#555", "fill": "#555", "baseline": "middle"},
 "encoding": {
  "x": {"field": "x", "type": "quantitative", "scale": {"domain": [0, 3], "nice": false, "zero": false}, "axis": {"orient": "top", "values": [1, 2], "labels": false, "domain": false, "ticks": true, "tickSize": 17, "grid": true, "title": null}},
  "y": {"field": "v", "type": "quantitative", "scale": {"domain": [842, 3738], "range": [73, 0], "nice": false, "zero": false}, "axis": {"orient": "right", "labels": false, "ticks": false, "domain": true, "grid": false, "title": null}},
  "text": {"field": "s"}}},
{"data": {"name": "pts"},
 "transform": [{"filter": "datum.p=='D' && datum.v<=950"}, {"calculate": "(datum.t=='6'?0:datum.t=='24'?1:2)+(datum.g=='S'?0.31:0.67)+datum.j*0.04", "as": "x"}],
 "mark": {"type": "square", "size": 20, "stroke": "#111", "strokeWidth": 0.5, "opacity": 1},
 "encoding": {
  "x": {"field": "x", "type": "quantitative", "scale": {"domain": [0, 3], "nice": false, "zero": false}, "axis": {"orient": "bottom", "values": [0.34, 0.73, 1.34, 1.73, 2.34, 2.73], "labelExpr": "datum.value%1<0.5?'Saline':'tPA'", "ticks": false, "tickSize": 0, "grid": false, "labelPadding": 2, "labelFontSize": 14, "title": null}},
  "y": {"field": "v", "type": "quantitative", "scale": {"domain": [-32.5, 967], "range": [328, 83], "nice": false, "zero": false}, "axis": {"orient": "left", "values": [0, 200, 400, 600, 800], "tickSize": 4, "labelPadding": 3, "grid": false, "title": "CCL2 (pg/mg of protein)", "titleX": -52, "titleY": 152, "titleAngle": 270, "titleBaseline": "top", "titleAlign": "center"}},
  "color": {"field": "g", "type": "nominal", "scale": {"domain": ["S", "R"], "range": ["#1d2a5c", "#8c2a2a"]}, "legend": null}}},
{"data": {"name": "ann"},
 "transform": [{"filter": "datum.p=='D' && datum.v<=950"}, {"calculate": "(datum.t=='6'?0:datum.t=='24'?1:2)+(datum.g=='S'?0.31:0.67)", "as": "x"}],
 "mark": {"type": "text", "fontSize": 15, "color": "#555", "fill": "#555", "baseline": "middle"},
 "encoding": {
  "x": {"field": "x", "type": "quantitative", "scale": {"domain": [0, 3], "nice": false, "zero": false}, "axis": {"orient": "bottom", "values": [1, 2], "labels": false, "domain": false, "ticks": true, "tickSize": 16, "grid": true, "title": null}},
  "y": {"field": "v", "type": "quantitative", "scale": {"domain": [-32.5, 967], "range": [328, 83], "nice": false, "zero": false}, "axis": {"orient": "right", "labels": false, "ticks": false, "domain": true, "grid": false, "title": null}},
  "text": {"field": "s"}}},
{"data": {"name": "med"},
 "transform": [{"filter": "datum.p=='D'"}, {"calculate": "(datum.t=='6'?0:datum.t=='24'?1:2)+(datum.g=='S'?0.31:0.67)", "as": "c"}, {"calculate": "datum.c-0.1", "as": "x1"}, {"calculate": "datum.c+0.1", "as": "x2"}],
 "mark": {"type": "rule", "strokeWidth": 1.5, "color": "#000"},
 "encoding": {
  "x": {"field": "x1", "type": "quantitative", "scale": {"domain": [0, 3], "nice": false, "zero": false}, "axis": {"orient": "bottom", "values": [0.5, 1.5, 2.5], "labelExpr": "'◂────────────▸'", "ticks": false, "tickSize": 0, "domain": false, "grid": false, "labelPadding": 15, "labelFont": "DejaVu Sans", "labelFontSize": 8, "title": null}},
  "x2": {"field": "x2"},
  "y": {"field": "v", "type": "quantitative", "scale": {"domain": [-32.5, 967], "range": [328, 83], "nice": false, "zero": false}, "axis": null}}},
{"data": {"values": [{}]},
 "mark": {"type": "rule", "strokeWidth": 1, "color": "#555"},
 "encoding": {
  "x": {"datum": 0, "type": "quantitative", "scale": {"domain": [0, 3], "nice": false, "zero": false}, "axis": {"orient": "bottom", "values": [0.5, 1.5, 2.5], "labelExpr": "datum.value<1?'p = 0.060':datum.value<2?'p = 0.041':'p = 0.142'", "ticks": false, "tickSize": 0, "domain": false, "grid": false, "labelPadding": 23, "labelFontSize": 14, "title": null}},
  "x2": {"datum": 3},
  "y": {"datum": 36, "type": "quantitative", "scale": {"domain": [-32.5, 967], "range": [328, 83], "nice": false, "zero": false}, "axis": null}}}
]
},
{
"width": 310, "height": 341,
"resolve": {"scale": {"x": "independent", "y": "independent"}, "axis": {"x": "independent", "y": "independent"}},
"layer": [
{"data": {"name": "pts"},
 "transform": [{"filter": "datum.p=='E' && datum.v>158"}, {"calculate": "(datum.t=='6'?0:datum.t=='24'?1:2)+(datum.g=='S'?0.31:0.67)+datum.j*0.04", "as": "x"}],
 "mark": {"type": "square", "size": 20, "stroke": "#111", "strokeWidth": 0.5, "opacity": 1},
 "encoding": {
  "x": {"field": "x", "type": "quantitative", "scale": {"domain": [0, 3], "nice": false, "zero": false}, "axis": {"orient": "top", "values": [0.5, 1.5, 2.5], "labelExpr": "datum.value<1?'6 h':datum.value<2?'24 h':'72 h'", "ticks": false, "tickSize": 0, "grid": false, "labelPadding": 2, "labelFontSize": 14, "title": "E", "titleX": -52, "titleY": -2, "titleAngle": 0, "titleAlign": "left", "titleBaseline": "alphabetic", "titleFont": "Liberation Sans", "titleFontSize": 17, "titleFontWeight": "bold", "titleColor": "#000"}},
  "y": {"field": "v", "type": "quantitative", "scale": {"domain": [133, 887], "range": [87, 0], "nice": false, "zero": false}, "axis": {"orient": "left", "values": [200, 400, 600], "tickSize": 4, "labelPadding": 3, "grid": false, "title": null}},
  "color": {"field": "g", "type": "nominal", "scale": {"domain": ["S", "R"], "range": ["#1d2a5c", "#8c2a2a"]}, "legend": null}}},
{"data": {"name": "ann"},
 "transform": [{"filter": "datum.p=='E' && datum.v>158"}, {"calculate": "(datum.t=='6'?0:datum.t=='24'?1:2)+(datum.g=='S'?0.31:0.67)", "as": "x"}],
 "mark": {"type": "text", "fontSize": 15, "color": "#555", "fill": "#555", "baseline": "middle"},
 "encoding": {
  "x": {"field": "x", "type": "quantitative", "scale": {"domain": [0, 3], "nice": false, "zero": false}, "axis": {"orient": "top", "values": [1, 2], "labels": false, "domain": false, "ticks": true, "tickSize": 17, "grid": true, "title": null}},
  "y": {"field": "v", "type": "quantitative", "scale": {"domain": [133, 887], "range": [87, 0], "nice": false, "zero": false}, "axis": {"orient": "right", "labels": false, "ticks": false, "domain": true, "grid": false, "title": null}},
  "text": {"field": "s"}}},
{"data": {"name": "pts"},
 "transform": [{"filter": "datum.p=='E' && datum.v<=158"}, {"calculate": "(datum.t=='6'?0:datum.t=='24'?1:2)+(datum.g=='S'?0.31:0.67)+datum.j*0.04", "as": "x"}],
 "mark": {"type": "square", "size": 20, "stroke": "#111", "strokeWidth": 0.5, "opacity": 1},
 "encoding": {
  "x": {"field": "x", "type": "quantitative", "scale": {"domain": [0, 3], "nice": false, "zero": false}, "axis": {"orient": "bottom", "values": [0.34, 0.73, 1.34, 1.73, 2.34, 2.73], "labelExpr": "datum.value%1<0.5?'Saline':'tPA'", "ticks": false, "tickSize": 0, "grid": false, "labelPadding": 2, "labelFontSize": 14, "title": null}},
  "y": {"field": "v", "type": "quantitative", "scale": {"domain": [-9, 156.3], "range": [341, 97], "nice": false, "zero": false}, "axis": {"orient": "left", "values": [0, 20, 40, 60, 80, 100, 120, 140], "tickSize": 4, "labelPadding": 3, "grid": false, "title": "CCL3 (pg/mg of protein)", "titleX": -52, "titleY": 170, "titleAngle": 270, "titleBaseline": "top", "titleAlign": "center"}},
  "color": {"field": "g", "type": "nominal", "scale": {"domain": ["S", "R"], "range": ["#1d2a5c", "#8c2a2a"]}, "legend": null}}},
{"data": {"name": "ann"},
 "transform": [{"filter": "datum.p=='E' && datum.v<=158"}, {"calculate": "(datum.t=='6'?0:datum.t=='24'?1:2)+(datum.g=='S'?0.31:0.67)", "as": "x"}],
 "mark": {"type": "text", "fontSize": 15, "color": "#555", "fill": "#555", "baseline": "middle"},
 "encoding": {
  "x": {"field": "x", "type": "quantitative", "scale": {"domain": [0, 3], "nice": false, "zero": false}, "axis": {"orient": "bottom", "values": [1, 2], "labels": false, "domain": false, "ticks": true, "tickSize": 16, "grid": true, "title": null}},
  "y": {"field": "v", "type": "quantitative", "scale": {"domain": [-9, 156.3], "range": [341, 97], "nice": false, "zero": false}, "axis": {"orient": "right", "labels": false, "ticks": false, "domain": true, "grid": false, "title": null}},
  "text": {"field": "s"}}},
{"data": {"name": "med"},
 "transform": [{"filter": "datum.p=='E'"}, {"calculate": "(datum.t=='6'?0:datum.t=='24'?1:2)+(datum.g=='S'?0.31:0.67)", "as": "c"}, {"calculate": "datum.c-0.1", "as": "x1"}, {"calculate": "datum.c+0.1", "as": "x2"}],
 "mark": {"type": "rule", "strokeWidth": 1.5, "color": "#000"},
 "encoding": {
  "x": {"field": "x1", "type": "quantitative", "scale": {"domain": [0, 3], "nice": false, "zero": false}, "axis": {"orient": "bottom", "values": [0.5, 1.5, 2.5], "labelExpr": "'◂────────────▸'", "ticks": false, "tickSize": 0, "domain": false, "grid": false, "labelPadding": 15, "labelFont": "DejaVu Sans", "labelFontSize": 8, "title": null}},
  "x2": {"field": "x2"},
  "y": {"field": "v", "type": "quantitative", "scale": {"domain": [-9, 156.3], "range": [341, 97], "nice": false, "zero": false}, "axis": null}}},
{"data": {"values": [{}]},
 "mark": {"type": "rule", "strokeWidth": 1, "color": "#555"},
 "encoding": {
  "x": {"datum": 0, "type": "quantitative", "scale": {"domain": [0, 3], "nice": false, "zero": false}, "axis": {"orient": "bottom", "values": [0.5, 1.5, 2.5], "labelExpr": "datum.value<1?'p = 0.002':datum.value<2?'p = 0.401':'p = 0.329'", "ticks": false, "tickSize": 0, "domain": false, "grid": false, "labelPadding": 23, "labelFontSize": 14, "title": null}},
  "x2": {"datum": 3},
  "y": {"datum": 3.6, "type": "quantitative", "scale": {"domain": [-9, 156.3], "range": [341, 97], "nice": false, "zero": false}, "axis": null}}}
]
}
]},
{
"width": 310, "height": 340,
"resolve": {"scale": {"x": "independent", "y": "independent"}, "axis": {"x": "independent", "y": "independent"}},
"layer": [
{"data": {"name": "pts"},
 "transform": [{"filter": "datum.p=='F' && datum.v>315"}, {"calculate": "(datum.t=='6'?0:datum.t=='24'?1:2)+(datum.g=='S'?0.31:0.67)+datum.j*0.04", "as": "x"}],
 "mark": {"type": "square", "size": 20, "stroke": "#111", "strokeWidth": 0.5, "opacity": 1},
 "encoding": {
  "x": {"field": "x", "type": "quantitative", "scale": {"domain": [0, 3], "nice": false, "zero": false}, "axis": {"orient": "top", "values": [0.5, 1.5, 2.5], "labelExpr": "datum.value<1?'6 h':datum.value<2?'24 h':'72 h'", "ticks": false, "tickSize": 0, "grid": false, "labelPadding": 2, "labelFontSize": 14, "title": "F", "titleX": -52, "titleY": -2, "titleAngle": 0, "titleAlign": "left", "titleBaseline": "alphabetic", "titleFont": "Liberation Sans", "titleFontSize": 17, "titleFontWeight": "bold", "titleColor": "#000"}},
  "y": {"field": "v", "type": "quantitative", "scale": {"domain": [257, 1428], "range": [86, 0], "nice": false, "zero": false}, "axis": {"orient": "left", "values": [500, 1000], "format": "d", "tickSize": 4, "labelPadding": 3, "grid": false, "title": null}},
  "color": {"field": "g", "type": "nominal", "scale": {"domain": ["S", "R"], "range": ["#1d2a5c", "#8c2a2a"]}, "legend": null}}},
{"data": {"name": "ann"},
 "transform": [{"filter": "datum.p=='F' && datum.v>315"}, {"calculate": "(datum.t=='6'?0:datum.t=='24'?1:2)+(datum.g=='S'?0.31:0.67)", "as": "x"}],
 "mark": {"type": "text", "fontSize": 15, "color": "#555", "fill": "#555", "baseline": "middle"},
 "encoding": {
  "x": {"field": "x", "type": "quantitative", "scale": {"domain": [0, 3], "nice": false, "zero": false}, "axis": {"orient": "top", "values": [1, 2], "labels": false, "domain": false, "ticks": true, "tickSize": 17, "grid": true, "title": null}},
  "y": {"field": "v", "type": "quantitative", "scale": {"domain": [257, 1428], "range": [86, 0], "nice": false, "zero": false}, "axis": {"orient": "right", "labels": false, "ticks": false, "domain": true, "grid": false, "title": null}},
  "text": {"field": "s"}}},
{"data": {"name": "pts"},
 "transform": [{"filter": "datum.p=='F' && datum.v<=315"}, {"calculate": "(datum.t=='6'?0:datum.t=='24'?1:2)+(datum.g=='S'?0.31:0.67)+datum.j*0.04", "as": "x"}],
 "mark": {"type": "square", "size": 20, "stroke": "#111", "strokeWidth": 0.5, "opacity": 1},
 "encoding": {
  "x": {"field": "x", "type": "quantitative", "scale": {"domain": [0, 3], "nice": false, "zero": false}, "axis": {"orient": "bottom", "values": [0.34, 0.73, 1.34, 1.73, 2.34, 2.73], "labelExpr": "datum.value%1<0.5?'Saline':'tPA'", "ticks": false, "tickSize": 0, "grid": false, "labelPadding": 2, "labelFontSize": 14, "title": null}},
  "y": {"field": "v", "type": "quantitative", "scale": {"domain": [-17, 314], "range": [340, 95], "nice": false, "zero": false}, "axis": {"orient": "left", "values": [0, 50, 100, 150, 200, 250, 300], "tickSize": 4, "labelPadding": 3, "grid": false, "title": "CXCL1 (pg/mg of protein)", "titleX": -52, "titleY": 170, "titleAngle": 270, "titleBaseline": "top", "titleAlign": "center"}},
  "color": {"field": "g", "type": "nominal", "scale": {"domain": ["S", "R"], "range": ["#1d2a5c", "#8c2a2a"]}, "legend": null}}},
{"data": {"name": "ann"},
 "transform": [{"filter": "datum.p=='F' && datum.v<=315"}, {"calculate": "(datum.t=='6'?0:datum.t=='24'?1:2)+(datum.g=='S'?0.31:0.67)", "as": "x"}],
 "mark": {"type": "text", "fontSize": 15, "color": "#555", "fill": "#555", "baseline": "middle"},
 "encoding": {
  "x": {"field": "x", "type": "quantitative", "scale": {"domain": [0, 3], "nice": false, "zero": false}, "axis": {"orient": "bottom", "values": [1, 2], "labels": false, "domain": false, "ticks": true, "tickSize": 16, "grid": true, "title": null}},
  "y": {"field": "v", "type": "quantitative", "scale": {"domain": [-17, 314], "range": [340, 95], "nice": false, "zero": false}, "axis": {"orient": "right", "labels": false, "ticks": false, "domain": true, "grid": false, "title": null}},
  "text": {"field": "s"}}},
{"data": {"name": "med"},
 "transform": [{"filter": "datum.p=='F'"}, {"calculate": "(datum.t=='6'?0:datum.t=='24'?1:2)+(datum.g=='S'?0.31:0.67)", "as": "c"}, {"calculate": "datum.c-0.1", "as": "x1"}, {"calculate": "datum.c+0.1", "as": "x2"}],
 "mark": {"type": "rule", "strokeWidth": 1.5, "color": "#000"},
 "encoding": {
  "x": {"field": "x1", "type": "quantitative", "scale": {"domain": [0, 3], "nice": false, "zero": false}, "axis": {"orient": "bottom", "values": [0.5, 1.5, 2.5], "labelExpr": "'◂────────────▸'", "ticks": false, "tickSize": 0, "domain": false, "grid": false, "labelPadding": 15, "labelFont": "DejaVu Sans", "labelFontSize": 8, "title": null}},
  "x2": {"field": "x2"},
  "y": {"field": "v", "type": "quantitative", "scale": {"domain": [-17, 314], "range": [340, 95], "nice": false, "zero": false}, "axis": null}}},
{"data": {"values": [{}]},
 "mark": {"type": "rule", "strokeWidth": 1, "color": "#555"},
 "encoding": {
  "x": {"datum": 0, "type": "quantitative", "scale": {"domain": [0, 3], "nice": false, "zero": false}, "axis": {"orient": "bottom", "values": [0.5, 1.5, 2.5], "labelExpr": "datum.value<1?'p = 0.005':datum.value<2?'p = 0.018':'p = 0.288'", "ticks": false, "tickSize": 0, "domain": false, "grid": false, "labelPadding": 23, "labelFontSize": 14, "title": null}},
  "x2": {"datum": 3},
  "y": {"datum": 4.5, "type": "quantitative", "scale": {"domain": [-17, 314], "range": [340, 95], "nice": false, "zero": false}, "axis": null}}}
]
}
]}
]
}
